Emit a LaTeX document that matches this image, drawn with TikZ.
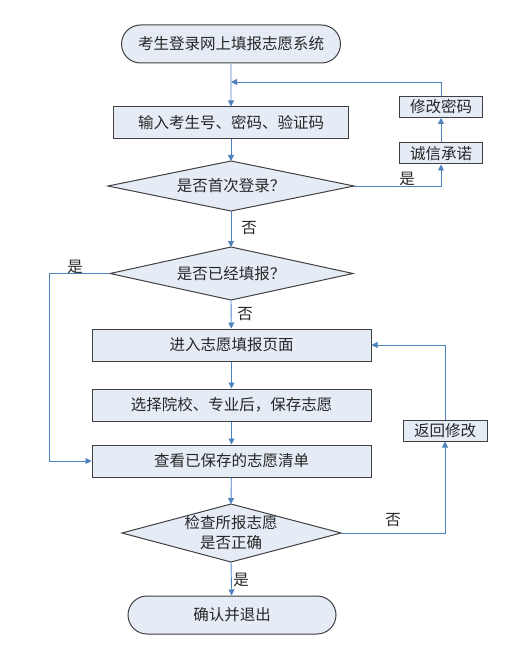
\documentclass[tikz,border=0pt]{standalone}
\usepackage{fontspec}
\setmainfont{Noto Sans CJK SC}
\usetikzlibrary{shapes.geometric,shapes.misc,arrows.meta}
\definecolor{boxfill}{HTML}{E6ECF6}
\definecolor{arrowblue}{HTML}{4F81BD}
\definecolor{edgegray}{HTML}{404040}
\begin{document}
\begin{tikzpicture}[x=1pt,y=-1pt,
  base/.style={draw=edgegray,fill=boxfill,line width=1pt,inner sep=0pt,font=\fontsize{15.5}{18}\selectfont,text=black!85},
  terminal/.style={base,rounded rectangle},
  procbox/.style={base,rectangle},
  conn/.style={draw=arrowblue,line width=0.9pt},
  arr/.style={conn,-{Triangle[length=6pt,width=6pt]}},
  lbl/.style={font=\fontsize{15.5}{18}\selectfont,text=black!85,inner sep=0pt}]
\useasboundingbox (0,0) rectangle (513,652);

\node[terminal,minimum width=219pt,minimum height=38pt] (start) at (231,44) {考生登录网上填报志愿系统};
\node[procbox,minimum width=235pt,minimum height=32pt] (input) at (231,123) {输入考生号、密码、验证码};
\node[procbox,minimum width=83pt,minimum height=21pt] (pwd) at (441,107) {修改密码};
\node[procbox,minimum width=83pt,minimum height=21pt] (promise) at (441,153.5) {诚信承诺};

\coordinate (d1t) at (231,161);
\coordinate (d1b) at (231,211);
\coordinate (d1l) at (108,186);
\coordinate (d1r) at (354,186);
\draw[base] (d1t) -- (d1r) -- (d1b) -- (d1l) -- cycle;
\node[lbl] (d1) at (231,186) {是否首次登录？};

\coordinate (d2t) at (231,247);
\coordinate (d2b) at (231,300);
\coordinate (d2l) at (110,273.5);
\coordinate (d2r) at (353,273.5);
\draw[base] (d2t) -- (d2r) -- (d2b) -- (d2l) -- cycle;
\node[lbl] (d2) at (231,273.5) {是否已经填报？};

\node[procbox,minimum width=279pt,minimum height=32pt] (enter) at (231.5,345) {进入志愿填报页面};
\node[procbox,minimum width=279pt,minimum height=32pt] (choose) at (231.5,405) {选择院校、专业后，保存志愿};
\node[procbox,minimum width=279pt,minimum height=32pt] (view) at (231.5,461) {查看已保存的志愿清单};
\node[procbox,minimum width=84pt,minimum height=21pt] (back) at (445,430.5) {返回修改};

\coordinate (d3t) at (231,504);
\coordinate (d3b) at (231,562);
\coordinate (d3l) at (122,533);
\coordinate (d3r) at (341,533);
\draw[base] (d3t) -- (d3r) -- (d3b) -- (d3l) -- cycle;
\node[lbl,align=center,font=\fontsize{15.5}{20}\selectfont] (d3) at (231,533) {检查所报志愿\\是否正确};

\node[terminal,minimum width=208pt,minimum height=38pt] (end) at (232,615) {确认并退出};

% connectors
\draw[arr] (start) -- (input);
\draw[arr] (input) -- (d1t);
\draw[arr] (d1r) -| (promise.south);
\draw[arr] (promise) -- (pwd);
\coordinate (loop1) at (231,82);
\draw[arr] (pwd.north) |- (loop1);
\node[lbl] (yes1) at (407,179) {是};

\draw[arr] (d1b) -- (d2t);
\node[lbl] (no1) at (249,228) {否};

\draw[arr] (d2b) -- (enter);
\node[lbl] (no2) at (245,314) {否};

\coordinate (leftx) at (49,273.5);
\draw[arr] (d2l) -- (leftx) |- (view.west);
\node[lbl] (yes2) at (75,267) {是};

\draw[arr] (enter) -- (choose);
\draw[arr] (choose) -- (view);
\draw[arr] (view) -- (d3t);

\draw[arr] (d3r) -| (back.south);
\draw[arr] (back.north) |- (enter.east);
\node[lbl] (no3) at (393,520) {否};

\draw[arr] (d3b) -- (end);
\node[lbl] (yes3) at (241,580) {是};
\end{tikzpicture}
\end{document}
